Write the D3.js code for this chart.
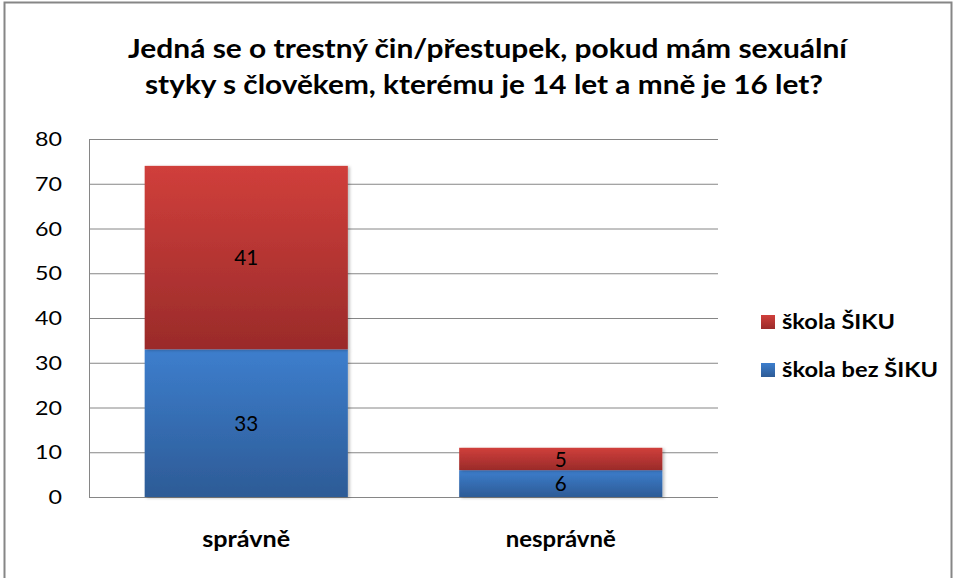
<!DOCTYPE html>
<html><head><meta charset="utf-8">
<script src="https://cdn.jsdelivr.net/npm/d3@7"></script>
<style>body{margin:0;background:#fff}svg{display:block}</style>
</head><body>
<svg id="c" width="955" height="578"></svg>
<script>
const categories = ["správně", "nesprávně"];
const seriesNames = ["škola bez ŠIKU", "škola ŠIKU"];
const bezSiku = [33, 6];
const siku = [41, 5];
const yTicks = [0, 10, 20, 30, 40, 50, 60, 70, 80];
const titleLines = ["Jedná se o trestný čin/přestupek, pokud mám sexuální", "styky s člověkem, kterému je 14 let a mně je 16 let?"];

const svg = d3.select("#c");
const font = "Lato, 'Open Sans', sans-serif";
const defs = svg.append("defs");
function grad(id, top, bot) {
  const g = defs.append("linearGradient").attr("id", id).attr("x1", 0).attr("y1", 0).attr("x2", 0).attr("y2", 1);
  g.append("stop").attr("offset", "0%").attr("stop-color", top);
  g.append("stop").attr("offset", "100%").attr("stop-color", bot);
}
grad("gBlue", "#3D7ECD", "#2D5B96");
grad("gRed", "#D03F3B", "#9A2B2A");
const f = defs.append("filter").attr("id", "sh").attr("x", "-10%").attr("y", "-10%").attr("width", "130%").attr("height", "130%");
f.append("feDropShadow").attr("dx", 2).attr("dy", 1).attr("stdDeviation", 1.5).attr("flood-color", "#000").attr("flood-opacity", 0.25);

// fit text to a measured width
function fit(sel, w) {
  sel.attr("textLength", w).attr("lengthAdjust", "spacingAndGlyphs");
}

// outer border
svg.append("path").attr("d", "M4.5,578 V2.5 H951.5 V578").attr("fill", "none").attr("stroke", "#868686").attr("stroke-width", 2);

// title
const titleW = [719, 678], titleC = [487.5, 484];
svg.append("g").selectAll("text").data(titleLines).join("text")
  .attr("x", (d, i) => titleC[i]).attr("y", (d, i) => 58 + i * 35.5)
  .attr("text-anchor", "middle").attr("font-family", font).attr("font-size", 27).attr("font-weight", "bold")
  .attr("fill", "#000").text(d => d)
  .each(function(d, i) { fit(d3.select(this), titleW[i]); });

const x0 = 89, x1 = 718, yTop = 139, yBot = 497;
const x = d3.scaleBand().domain(categories).range([x0, x1]).paddingInner(0.354).paddingOuter(0.177);
const y = d3.scaleLinear().domain([0, 80]).range([yBot, yTop]);

// gridlines
svg.append("g").selectAll("line").data(yTicks).join("line")
  .attr("x1", x0).attr("x2", x1).attr("y1", d => y(d) + 0.5).attr("y2", d => y(d) + 0.5)
  .attr("stroke", "#868686").attr("stroke-width", 1);
svg.append("line").attr("x1", x0 + 0.5).attr("x2", x0 + 0.5).attr("y1", yTop).attr("y2", yBot + 1).attr("stroke", "#868686");

// y axis labels
const yAxis = d3.axisLeft(y).tickValues(yTicks).tickSize(0).tickPadding(0);
const ga = svg.append("g").attr("transform", `translate(62,0)`).call(yAxis);
ga.select(".domain").remove();
ga.selectAll("text").attr("font-family", font).attr("font-size", 18.5).attr("fill", "#000").attr("dy", "0.36em")
  .each(function(d) { fit(d3.select(this), String(d).length * 13.5); });

// stacked bars
const rows = categories.map((c, i) => ({cat: c, bez: bezSiku[i], siku: siku[i]}));
const stack = d3.stack().keys(["bez", "siku"])(rows);
const fills = ["url(#gBlue)", "url(#gRed)"];
const bars = svg.append("g");
stack.forEach((s, si) => {
  bars.append("g").selectAll("rect").data(s).join("rect")
    .attr("x", d => x(d.data.cat)).attr("width", x.bandwidth())
    .attr("y", d => y(d[1])).attr("height", d => y(d[0]) - y(d[1]))
    .attr("fill", fills[si]).attr("filter", "url(#sh)");
});
stack.forEach((s, si) => {
  bars.append("g").selectAll("text").data(s).join("text")
    .attr("x", d => x(d.data.cat) + x.bandwidth() / 2)
    .attr("y", d => (y(d[0]) + y(d[1])) / 2).attr("dy", "0.36em")
    .attr("text-anchor", "middle").attr("font-family", font).attr("font-size", 21).attr("fill", "#000")
    .text(d => d[1] - d[0])
    .each(function(d) { fit(d3.select(this), String(d[1] - d[0]).length * 12); });
});

// category labels
const catW = [88, 110];
svg.append("g").selectAll("text").data(categories).join("text")
  .attr("x", d => x(d) + x.bandwidth() / 2).attr("y", 547)
  .attr("text-anchor", "middle").attr("font-family", font).attr("font-size", 22).attr("font-weight", "bold")
  .text(d => d)
  .each(function(d, i) { fit(d3.select(this), catW[i]); });

// legend
const leg = [{name: seriesNames[1], fill: "url(#gRed)", w: 113}, {name: seriesNames[0], fill: "url(#gBlue)", w: 156}];
const lg = svg.append("g").selectAll("g").data(leg).join("g").attr("transform", (d, i) => `translate(761,${315 + i * 48})`);
lg.append("rect").attr("width", 14).attr("height", 14).attr("fill", d => d.fill);
lg.append("text").attr("x", 21).attr("y", 14).attr("font-family", font).attr("font-size", 21).attr("font-weight", "bold").text(d => d.name)
  .each(function(d) { fit(d3.select(this), d.w); });
</script>
</body></html>
